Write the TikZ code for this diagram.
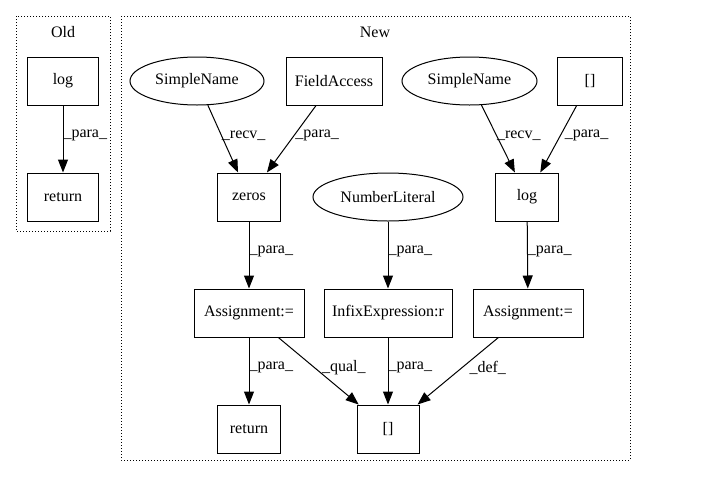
\documentclass[tikz,border=0pt]{standalone}
\usepackage{fontspec}
\setmainfont{Liberation Serif}
\usetikzlibrary{shapes.geometric,arrows.meta}
\begin{document}
\begin{tikzpicture}[x=1pt,y=-1pt,
  font=\fontsize{16}{18}\selectfont,
  box/.style={draw,line width=1pt,minimum height=48pt,inner sep=0pt},
  oval/.style={draw,ellipse,line width=1pt,minimum height=48pt,inner sep=0pt},
  edge/.style={line width=1pt,-{Triangle[length=13pt,width=10pt]}},
  lbl/.style={anchor=west,inner sep=0pt,font=\fontsize{16}{18}\selectfont},
  cluster/.style={draw,dotted,line width=1pt}]
\useasboundingbox (0,0) rectangle (721,480);
% clusters
\draw[cluster] (16,16) rectangle (110,231);
\node (oldt) at (63,32) {Old};
\draw[cluster] (121,16) rectangle (630,460);
\node (newt) at (375,32) {New};
% Old
\node[box,minimum width=71pt] (olog) at (63,81) {log};
\node[box,minimum width=71pt] (oret) at (63,197) {return};
\draw[edge] (olog) -- node[lbl,pos=0.45]{\_para\_} (oret);
% New row 1
\node[oval,minimum width=134pt] (sn1) at (197,81) {SimpleName};
\node[box,minimum width=96pt] (fa) at (334,81) {FieldAccess};
\node[oval,minimum width=135pt] (sn2) at (469.5,81) {SimpleName};
\node[box,minimum width=65pt] (br1) at (590,81) {[]};
% row 2
\node[box,minimum width=63pt] (zeros) at (249,197) {zeros};
\node[oval,minimum width=150pt] (nl) at (388,197) {NumberLiteral};
\node[box,minimum width=63pt] (nlog) at (527,197) {log};
% row 3
\node[box,minimum width=110pt] (as1) at (249,313) {Assignment:=};
\node[box,minimum width=128pt] (infix) at (388,313) {InfixExpression:r};
\node[box,minimum width=110pt] (as2) at (528,313) {Assignment:=};
% row 4
\node[box,minimum width=63pt] (nret) at (249,429) {return};
\node[box,minimum width=62pt] (br2) at (388,429) {[]};
% edges
\draw[edge] (sn1) -- node[lbl,pos=0.45]{\_recv\_} (zeros);
\draw[edge] (fa) -- node[lbl,pos=0.45,xshift=1pt]{\_para\_} (zeros);
\draw[edge] (sn2) -- node[lbl,pos=0.45]{\_recv\_} (nlog);
\draw[edge] (br1) -- node[lbl,pos=0.45,xshift=4pt]{\_para\_} (nlog);
\draw[edge] (zeros) -- node[lbl,pos=0.45]{\_para\_} (as1);
\draw[edge] (nl) -- node[lbl,pos=0.45]{\_para\_} (infix);
\draw[edge] (nlog) -- node[lbl,pos=0.45]{\_para\_} (as2);
\draw[edge] (as1) -- node[lbl,pos=0.45]{\_para\_} (nret);
\draw[edge] (as1) -- node[lbl,pos=0.45,xshift=7pt]{\_qual\_} (br2);
\draw[edge] (infix) -- node[lbl,pos=0.45]{\_para\_} (br2);
\draw[edge] (as2) -- node[lbl,pos=0.45,xshift=7pt]{\_def\_} (br2);
\end{tikzpicture}
\end{document}
